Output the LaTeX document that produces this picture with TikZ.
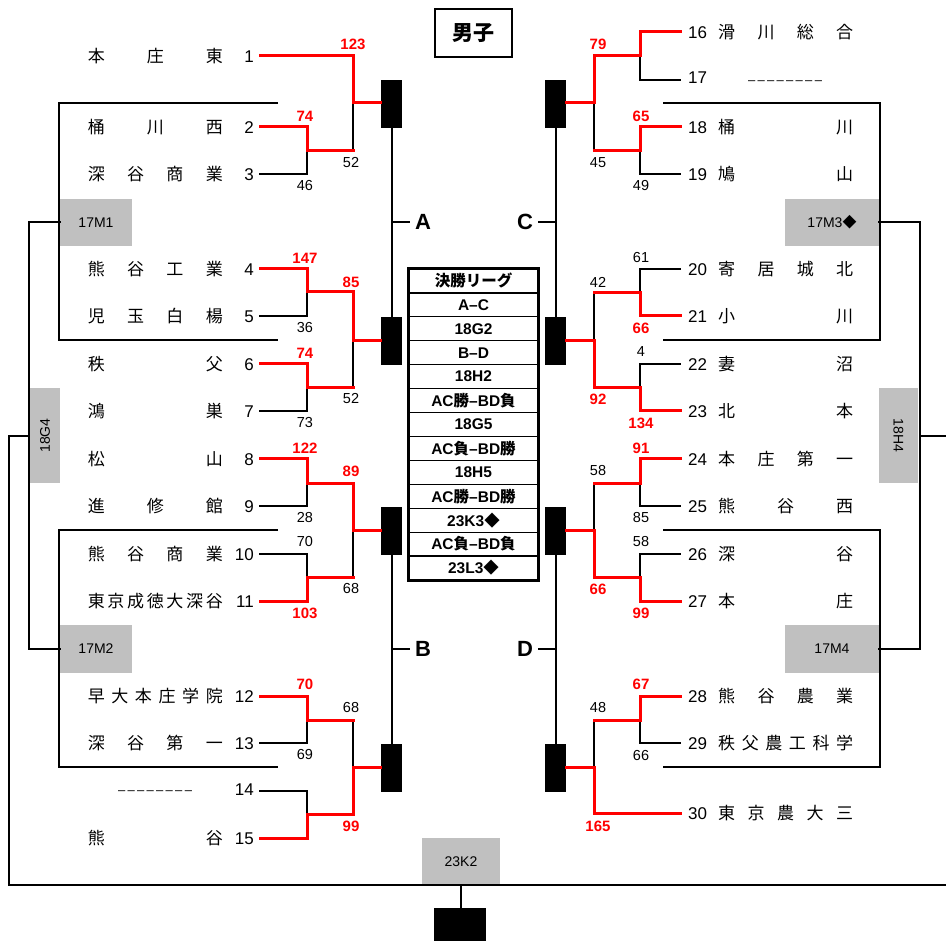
\documentclass[tikz,border=0pt]{standalone}
\usepackage{fontspec}
\usepackage{graphicx}
\setmainfont{Liberation Sans}
\newfontfamily\jp{Noto Sans CJK JP}
\definecolor{gboxc}{HTML}{C0C0C0}
\definecolor{redc}{HTML}{FF0000}
\tikzset{
  lose/.style={line width=2pt, black, line cap=rect},
  win/.style={line width=3pt, redc, line cap=rect},
  frame/.style={line width=2pt, black},
  blk/.style={fill=black, minimum width=21pt, minimum height=48pt, inner sep=0pt},
  gbox/.style={fill=gboxc, inner sep=0pt, font=\fontsize{14}{16}\selectfont},
  lteam/.style={inner sep=0pt, anchor=east, font=\fontsize{17}{20}\selectfont},
  rteam/.style={inner sep=0pt, anchor=west, font=\fontsize{17}{20}\selectfont},
  dashtxt/.style={inner sep=0pt, font=\fontsize{13}{16}\selectfont},
  sc/.style={font=\fontsize{14.5}{16}\selectfont, inner sep=0pt},
  rs/.style={font=\bfseries\fontsize{15}{16}\selectfont, text=redc, inner sep=0pt},
  cell/.style={draw, line width=1.2pt, minimum width=129pt, minimum height=23.92pt, inner sep=0pt, font=\bfseries\fontsize{15.5}{17}\selectfont},
  quart/.style={font=\bfseries\fontsize{22}{24}\selectfont, inner sep=0pt},
}
\newcommand{\LN}[2]{{\jp\makebox[135pt]{#1}}\makebox[31pt][r]{#2}}
\newcommand{\RN}[2]{\makebox[30pt][l]{#1}{\jp\makebox[135pt]{#2}}}
\newcommand{\dashes}{\makebox[74pt]{–\hfill–\hfill–\hfill–\hfill–\hfill–\hfill–\hfill–}}
\begin{document}
\begin{tikzpicture}[x=1pt,y=-1pt]
\useasboundingbox (0,0) rectangle (946,941);

% gray boxes
\node[gbox, minimum width=72pt, minimum height=47pt] (m1) at (96,222.5) {17M1};
\node[gbox, minimum width=72pt, minimum height=48pt] (m2) at (96,649) {17M2};
\node[gbox, minimum width=94pt, minimum height=47pt] (m3) at (832,222.5) {17M3{\jp ◆}};
\node[gbox, minimum width=94pt, minimum height=48pt] (m4) at (832,649) {17M4};
\node[gbox, minimum width=30pt, minimum height=95pt] (g4) at (45,435.5) {\rotatebox{90}{18G4}};
\node[gbox, minimum width=39pt, minimum height=95pt] (h4) at (898.5,435.5) {\rotatebox{-90}{18H4}};
\node[gbox, minimum width=78pt, minimum height=47pt] (k2) at (461,861.5) {23K2};
\node[fill=black, minimum width=52pt, minimum height=33pt, inner sep=0pt] (fin) at (460,924.5) {};

% title
\node[draw, line width=2pt, minimum width=77pt, minimum height=48pt, inner sep=0pt,
      font=\jp\bfseries\fontsize{21}{24}\selectfont] (title) at (473.5,33) {男子};

% group frames
\draw[frame] (278,103) -- (59,103) -- (59,340) -- (278,340);
\draw[frame] (278,530) -- (59,530) -- (59,767) -- (278,767);
\draw[frame] (663,103) -- (880,103) -- (880,340) -- (663,340);
\draw[frame] (663,530) -- (880,530) -- (880,767) -- (663,767);

% outer connectors
\coordinate (lv) at (29,436);
\coordinate (bl) at (9,885);
\coordinate (br) at (946,885);
\coordinate (rv) at (920,436);
\coordinate (re) at (946,436);
\draw[lose] (m1.west) -| (lv) |- (m2.west);
\draw[lose] (lv) -| (bl) -- (br);
\draw[lose] (m3.east) -| (rv) |- (m4.east);
\draw[lose] (rv) -- (re);
\draw[lose] (k2.south) -- (k2.south |- fin.north);

% blocks
\node[blk] (b1) at (391.5,104) {};
\node[blk] (b2) at (391.5,341) {};
\node[blk] (b3) at (391.5,530.5) {};
\node[blk] (b4) at (391.5,767.5) {};
\node[blk] (b5) at (555.5,104) {};
\node[blk] (b6) at (555.5,341) {};
\node[blk] (b7) at (555.5,530.5) {};
\node[blk] (b8) at (555.5,767.5) {};

% quarter labels
\node[quart] (qA) at (423,222) {A};
\node[quart] (qB) at (423,649) {B};
\node[quart] (qC) at (525,222) {C};
\node[quart] (qD) at (525,649) {D};
\draw[lose] (b1.south) -- (b2.north);
\draw[lose] (b3.south) -- (b4.north);
\draw[lose] (b5.south) -- (b6.north);
\draw[lose] (b7.south) -- (b8.north);
\draw[lose] (b1.south |- qA) -- ([xshift=-6pt]qA.west);
\draw[lose] (b3.south |- qB) -- ([xshift=-6pt]qB.west);
\draw[lose] (b5.south |- qC) -- ([xshift=6pt]qC.east);
\draw[lose] (b7.south |- qD) -- ([xshift=6pt]qD.east);

% table
\foreach \i/\t in {1/{\jp 決勝リーグ},2/A–C,3/18G2,4/B–D,5/18H2,6/AC{\jp 勝}–BD{\jp 負},7/18G5,8/AC{\jp 負}–BD{\jp 勝},9/18H5,10/AC{\jp 勝}–BD{\jp 勝},11/23K3{\jp ◆},12/AC{\jp 負}–BD{\jp 負},13/23L3{\jp ◆}}
  \node[cell] (r\i) at (473.5,{269+23.923*(\i-0.5)}) {\t};
\draw[line width=2pt] (r1.north west) rectangle (r13.south east);

% team line starts
\foreach \n/\y in {1/56,2/127,3/174,4/269,5/316,6/364,7/411,8/459,9/506,10/554,11/601,12/696,13/743,14/791,15/838}
  \coordinate (p\n) at (260,\y);
\foreach \n/\y in {16/32,17/80,18/127,19/174,20/269,21/316,22/364,23/411,24/459,25/506,26/554,27/601,28/696,29/743,30/813}
  \coordinate (p\n) at (680,\y);
% junctions
\coordinate (jA) at (307,151); \coordinate (jB) at (307,292); \coordinate (jC) at (307,388);
\coordinate (jD) at (307,483); \coordinate (jE) at (307,577); \coordinate (jF) at (307,720);
\coordinate (jG) at (307,814);
\coordinate (k1) at (353,103); \coordinate (k2) at (353,341); \coordinate (k3) at (353,530); \coordinate (k4) at (353,767);
\coordinate (jH) at (640,56); \coordinate (jI) at (640,151); \coordinate (jJ) at (640,293);
\coordinate (jK) at (640,388); \coordinate (jL) at (640,483); \coordinate (jM) at (640,577);
\coordinate (jN) at (640,720);
\coordinate (k5) at (594,103); \coordinate (k6) at (594,341); \coordinate (k7) at (594,530); \coordinate (k8) at (594,767);

% losing lines
\draw[lose] (p3) -| (jA);
\draw[lose] (jA -| k1) -- (k1);
\draw[lose] (p5) -| (jB);
\draw[lose] (p7) -| (jC);
\draw[lose] (jC -| k2) -- (k2);
\draw[lose] (p9) -| (jD);
\draw[lose] (p10) -| (jE);
\draw[lose] (jE -| k3) -- (k3);
\draw[lose] (p13) -| (jF);
\draw[lose] (p14) -| (jG);
\draw[lose] (jF -| k4) -- (k4);
\draw[lose] (p17) -| (jH);
\draw[lose] (p19) -| (jI);
\draw[lose] (jI -| k5) -- (k5);
\draw[lose] (p20) -| (jJ);
\draw[lose] (p22) -| (jK);
\draw[lose] (jJ -| k6) -- (k6);
\draw[lose] (p25) -| (jL);
\draw[lose] (p26) -| (jM);
\draw[lose] (jL -| k7) -- (k7);
\draw[lose] (p29) -| (jN);
\draw[lose] (jN -| k8) -- (k8);

% winning lines
\draw[win] (p1) -| (k1) -- (k1 -| b1.west);
\draw[win] (p2) -| (jA) -- (jA -| k1);
\draw[win] (p4) -| (jB) -- (jB -| k2) -- (k2) -- (k2 -| b2.west);
\draw[win] (p6) -| (jC) -- (jC -| k2);
\draw[win] (p8) -| (jD) -- (jD -| k3) -- (k3) -- (k3 -| b3.west);
\draw[win] (p11) -| (jE) -- (jE -| k3);
\draw[win] (p12) -| (jF) -- (jF -| k4);
\draw[win] (p15) -| (jG) -- (jG -| k4) -- (k4) -- (k4 -| b4.west);
\draw[win] (p16) -| (jH) -- (jH -| k5) -- (k5) -- (k5 -| b5.east);
\draw[win] (p18) -| (jI) -- (jI -| k5);
\draw[win] (p21) -| (jJ) -- (jJ -| k6);
\draw[win] (p23) -| (jK) -- (jK -| k6) -- (k6) -- (k6 -| b6.east);
\draw[win] (p24) -| (jL) -- (jL -| k7);
\draw[win] (p27) -| (jM) -- (jM -| k7) -- (k7) -- (k7 -| b7.east);
\draw[win] (p28) -| (jN) -- (jN -| k8);
\draw[win] (p30) -| (k8) -- (k8 -| b8.east);

% left teams
\node[lteam] (t1) at (254,56) {\LN{本\hfill 庄\hfill 東}{1}};
\node[lteam] (t2) at (254,127) {\LN{桶\hfill 川\hfill 西}{2}};
\node[lteam] (t3) at (254,174) {\LN{深\hfill 谷\hfill 商\hfill 業}{3}};
\node[lteam] (t4) at (254,269) {\LN{熊\hfill 谷\hfill 工\hfill 業}{4}};
\node[lteam] (t5) at (254,316) {\LN{児\hfill 玉\hfill 白\hfill 楊}{5}};
\node[lteam] (t6) at (254,364) {\LN{秩\hfill 父}{6}};
\node[lteam] (t7) at (254,411) {\LN{鴻\hfill 巣}{7}};
\node[lteam] (t8) at (254,459) {\LN{松\hfill 山}{8}};
\node[lteam] (t9) at (254,506) {\LN{進\hfill 修\hfill 館}{9}};
\node[lteam] (t10) at (254,554) {\LN{熊\hfill 谷\hfill 商\hfill 業}{10}};
\node[lteam] (t11) at (254,601) {\LN{東\hfill 京\hfill 成\hfill 徳\hfill 大\hfill 深\hfill 谷}{11}};
\node[lteam] (t12) at (254,696) {\LN{早\hfill 大\hfill 本\hfill 庄\hfill 学\hfill 院}{12}};
\node[lteam] (t13) at (254,743) {\LN{深\hfill 谷\hfill 第\hfill 一}{13}};
\node[lteam] (t14) at (254,791) {\LN{\strut}{14}};
\node[lteam] (t15) at (254,838) {\LN{熊\hfill 谷}{15}};
\node[dashtxt] (d14) at (155,793) {\dashes};

% right teams
\node[rteam] (t16) at (688,32) {\RN{16}{滑\hfill 川\hfill 総\hfill 合}};
\node[rteam] (t17) at (688,80) {\RN{17}{\strut}};
\node[dashtxt] (d17) at (785,82.5) {\dashes};
\node[rteam] (t18) at (688,127) {\RN{18}{桶\hfill 川}};
\node[rteam] (t19) at (688,174) {\RN{19}{鳩\hfill 山}};
\node[rteam] (t20) at (688,269) {\RN{20}{寄\hfill 居\hfill 城\hfill 北}};
\node[rteam] (t21) at (688,316) {\RN{21}{小\hfill 川}};
\node[rteam] (t22) at (688,364) {\RN{22}{妻\hfill 沼}};
\node[rteam] (t23) at (688,411) {\RN{23}{北\hfill 本}};
\node[rteam] (t24) at (688,459) {\RN{24}{本\hfill 庄\hfill 第\hfill 一}};
\node[rteam] (t25) at (688,506) {\RN{25}{熊\hfill 谷\hfill 西}};
\node[rteam] (t26) at (688,554) {\RN{26}{深\hfill 谷}};
\node[rteam] (t27) at (688,601) {\RN{27}{本\hfill 庄}};
\node[rteam] (t28) at (688,696) {\RN{28}{熊\hfill 谷\hfill 農\hfill 業}};
\node[rteam] (t29) at (688,743) {\RN{29}{秩\hfill 父\hfill 農\hfill 工\hfill 科\hfill 学}};
\node[rteam] (t30) at (688,813) {\RN{30}{東\hfill 京\hfill 農\hfill 大\hfill 三}};

% scores left
\node[rs] (s1) at (353,44) {123};
\node[rs] (s2) at (305,116) {74};
\node[sc] (s3) at (351,163) {52};
\node[sc] (s4) at (305,186) {46};
\node[rs] (s5) at (305,258) {147};
\node[rs] (s6) at (351,282) {85};
\node[sc] (s7) at (305,328) {36};
\node[rs] (s8) at (305,353) {74};
\node[sc] (s9) at (351,399) {52};
\node[sc] (s10) at (305,423) {73};
\node[rs] (s11) at (305,448) {122};
\node[rs] (s12) at (351,471) {89};
\node[sc] (s13) at (305,518) {28};
\node[sc] (s14) at (305,542) {70};
\node[sc] (s15) at (351,589) {68};
\node[rs] (s16) at (305,613) {103};
\node[rs] (s17) at (305,684) {70};
\node[sc] (s18) at (351,708) {68};
\node[sc] (s19) at (305,755) {69};
\node[rs] (s20) at (351,826) {99};
% scores right
\node[rs] (s21) at (598,44) {79};
\node[rs] (s22) at (641,116) {65};
\node[sc] (s23) at (598,163) {45};
\node[sc] (s24) at (641,186) {49};
\node[sc] (s25) at (641,258) {61};
\node[sc] (s26) at (598,282) {42};
\node[rs] (s27) at (641,328) {66};
\node[sc] (s28) at (641,352) {4};
\node[rs] (s29) at (598,399) {92};
\node[rs] (s30) at (641,423) {134};
\node[rs] (s31) at (641,448) {91};
\node[sc] (s32) at (598,471) {58};
\node[sc] (s33) at (641,518) {85};
\node[sc] (s34) at (641,542) {58};
\node[rs] (s35) at (598,589) {66};
\node[rs] (s36) at (641,613) {99};
\node[rs] (s37) at (641,684) {67};
\node[sc] (s38) at (598,708) {48};
\node[sc] (s39) at (641,756) {66};
\node[rs] (s40) at (598,826) {165};
\end{tikzpicture}
\end{document}
